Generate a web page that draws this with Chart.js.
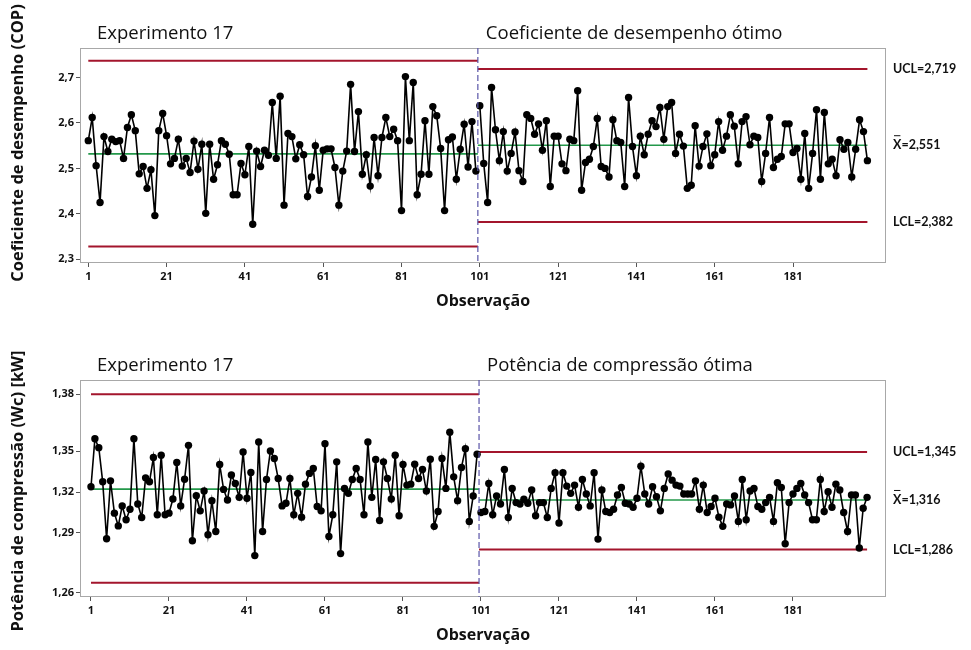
<!DOCTYPE html>
<html>
<head>
<meta charset="utf-8">
<script src="https://cdn.jsdelivr.net/npm/chart.js@4"></script>
<style>
  html, body { margin: 0; padding: 0; background: #fff; }
  .panel { position: absolute; left: 0; width: 971px; height: 325px; }
</style>
</head>
<body>
<div class="panel" style="top:0"><canvas id="copChart"></canvas></div>
<div class="panel" style="top:325px"><canvas id="wcChart"></canvas></div>
<script>
// observations are numbered 1..200, stage change after 100
const xTicks = [1, 21, 41, 61, 81, 101, 121, 141, 161, 181];
const stageSplit = 100.5;

// COP - Experimento 17 (obs 1-100)
const copStage1 = [
  2.561, 2.612, 2.506, 2.425, 2.570, 2.537, 2.564, 2.559, 2.561, 2.522,
  2.590, 2.618, 2.583, 2.488, 2.504, 2.456, 2.497, 2.396, 2.583, 2.621,
  2.572, 2.510, 2.522, 2.564, 2.505, 2.522, 2.491, 2.560, 2.498, 2.553,
  2.401, 2.553, 2.476, 2.508, 2.561, 2.553, 2.531, 2.442, 2.442, 2.511,
  2.486, 2.548, 2.377, 2.538, 2.504, 2.540, 2.529, 2.645, 2.522, 2.659,
  2.419, 2.577, 2.570, 2.521, 2.552, 2.530, 2.438, 2.481, 2.550, 2.452,
  2.540, 2.543, 2.543, 2.502, 2.419, 2.494, 2.538, 2.685, 2.537, 2.625,
  2.487, 2.530, 2.461, 2.568, 2.484, 2.568, 2.612, 2.570, 2.586, 2.561,
  2.407, 2.702, 2.561, 2.689, 2.442, 2.487, 2.605, 2.487, 2.636, 2.616,
  2.544, 2.407, 2.563, 2.569, 2.476, 2.542, 2.597, 2.503, 2.603, 2.494
];
// COP - optimum (obs 101-200)
const copStage2 = [
  2.638, 2.511, 2.425, 2.678, 2.585, 2.517, 2.581, 2.494, 2.533, 2.580,
  2.495, 2.471, 2.618, 2.610, 2.575, 2.598, 2.540, 2.605, 2.460, 2.571,
  2.571, 2.510, 2.495, 2.564, 2.561, 2.671, 2.452, 2.513, 2.520, 2.548,
  2.610, 2.504, 2.500, 2.481, 2.607, 2.561, 2.557, 2.460, 2.656, 2.548,
  2.484, 2.571, 2.530, 2.575, 2.605, 2.592, 2.634, 2.564, 2.636, 2.645,
  2.533, 2.575, 2.549, 2.456, 2.463, 2.594, 2.505, 2.548, 2.576, 2.506,
  2.530, 2.603, 2.540, 2.571, 2.618, 2.593, 2.510, 2.603, 2.614, 2.552,
  2.571, 2.568, 2.471, 2.533, 2.612, 2.502, 2.520, 2.526, 2.598, 2.598,
  2.535, 2.544, 2.476, 2.577, 2.456, 2.533, 2.629, 2.476, 2.623, 2.510,
  2.520, 2.484, 2.563, 2.542, 2.557, 2.481, 2.542, 2.607, 2.581, 2.517
];
// control limits [stage 1, stage 2]
const copUCL = [2.737, 2.719];
const copCL = [2.532, 2.551];
const copLCL = [2.328, 2.382];
const copTicks = [2.3, 2.4, 2.5, 2.6, 2.7];
const copTickLabels = ['2,3', '2,4', '2,5', '2,6', '2,7'];

// Wc - Experimento 17 (obs 1-100)
const wcStage1 = [
  1.3240, 1.3531, 1.3477, 1.3270, 1.2925, 1.3276, 1.3080, 1.3003, 1.3124, 1.3040,
  1.3104, 1.3531, 1.3136, 1.3054, 1.3294, 1.3270, 1.3417, 1.3070, 1.3431, 1.3070,
  1.3080, 1.3166, 1.3387, 1.3124, 1.3286, 1.3491, 1.2913, 1.3186, 1.3094, 1.3214,
  1.2949, 1.3156, 1.2969, 1.3375, 1.3224, 1.3160, 1.3311, 1.3260, 1.3176, 1.3451,
  1.3170, 1.3327, 1.2823, 1.3511, 1.2969, 1.3284, 1.3457, 1.3411, 1.3290, 1.3124,
  1.3140, 1.3290, 1.3070, 1.3200, 1.3056, 1.3256, 1.3321, 1.3351, 1.3120, 1.3094,
  1.3501, 1.2939, 1.3070, 1.3391, 1.2835, 1.3230, 1.3200, 1.3284, 1.3351, 1.3284,
  1.3070, 1.3511, 1.3176, 1.3405, 1.3036, 1.3391, 1.3290, 1.3166, 1.3431, 1.3064,
  1.3375, 1.3250, 1.3256, 1.3377, 1.3290, 1.3345, 1.3214, 1.3407, 1.3000, 1.3090,
  1.3411, 1.3230, 1.3571, 1.3300, 1.3156, 1.3357, 1.3471, 1.3030, 1.3184, 1.3437
];
// Wc - optimum (obs 101-200)
const wcStage2 = [
  1.3084, 1.3090, 1.3260, 1.3070, 1.3184, 1.3136, 1.3345, 1.3054, 1.3230, 1.3144,
  1.3136, 1.3164, 1.3140, 1.3220, 1.3064, 1.3144, 1.3144, 1.3054, 1.3230, 1.3325,
  1.3020, 1.3325, 1.3244, 1.3200, 1.3250, 1.3116, 1.3284, 1.3196, 1.3124, 1.3325,
  1.2923, 1.3220, 1.3090, 1.3084, 1.3104, 1.3190, 1.3236, 1.3140, 1.3136, 1.3116,
  1.3170, 1.3365, 1.3196, 1.3136, 1.3240, 1.3180, 1.3094, 1.3230, 1.3317, 1.3280,
  1.3250, 1.3244, 1.3196, 1.3196, 1.3196, 1.3276, 1.3104, 1.3250, 1.3084, 1.3120,
  1.3170, 1.3056, 1.3000, 1.3136, 1.3130, 1.3184, 1.3030, 1.3284, 1.3040, 1.3214,
  1.3230, 1.3120, 1.3104, 1.3144, 1.3176, 1.3030, 1.3264, 1.3236, 1.2895, 1.3144,
  1.3196, 1.3230, 1.3260, 1.3190, 1.3144, 1.3040, 1.3040, 1.3284, 1.3090, 1.3210,
  1.3116, 1.3256, 1.3220, 1.3084, 1.2969, 1.3190, 1.3190, 1.2869, 1.3110, 1.3176
];
const wcUCL = [1.380, 1.345];
const wcCL = [1.3226, 1.316];
const wcLCL = [1.2658, 1.286];
// tick marks sit where the printed labels are in the original figure
const wcTicks = [1.26, 1.2961, 1.3208, 1.3455, 1.38];
const wcTickLabels = ['1,26', '1,29', '1,32', '1,35', '1,38'];

const FONT = '"Open Sans", "DejaVu Sans", sans-serif';
const RED = '#a3152c';
const GREEN = '#23984a';

function comma(v, d) {
  return v.toFixed(d).replace('.', ',');
}

// frame, stage line, titles and limit labels
const stageDecor = {
  id: 'stageDecor',
  beforeDatasetsDraw(chart) {
    const { ctx, chartArea: a } = chart;
    ctx.save();
    ctx.strokeStyle = '#a8a8a8';
    ctx.lineWidth = 1;
    ctx.strokeRect(a.left + 0.5, a.top + 0.5, a.width - 1, a.height - 1);
    ctx.restore();
  },
  afterDatasetsDraw(chart, args, opts) {
    const { ctx, chartArea: a, scales } = chart;
    const x = scales.x, y = scales.y;
    const sx = x.getPixelForValue(opts.split);
    ctx.save();
    ctx.strokeStyle = '#5a55a8';
    ctx.lineWidth = 1.2;
    ctx.setLineDash([6, 3]);
    ctx.beginPath();
    ctx.moveTo(sx, a.top);
    ctx.lineTo(sx, a.bottom);
    ctx.stroke();
    ctx.setLineDash([]);

    ctx.fillStyle = '#111';
    ctx.font = '18.5px ' + FONT;
    ctx.textBaseline = 'alphabetic';
    ctx.fillText(opts.titles[0], a.left + 17, a.top - 9);
    ctx.fillText(opts.titles[1], sx + 8, a.top - 9);

    // vertical axis title
    ctx.save();
    ctx.translate(18, opts.yTitleY);
    ctx.rotate(-Math.PI / 2);
    ctx.font = 'bold 16.5px ' + FONT;
    ctx.textAlign = 'center';
    ctx.textBaseline = 'middle';
    ctx.fillText(opts.yTitle, 0, 0);
    ctx.restore();

    ctx.font = 'bold 12.5px Lato, ' + FONT;
    ctx.textBaseline = 'middle';
    const lx = a.right + 7;
    ctx.fillText('UCL=' + comma(opts.ucl, 3), lx, y.getPixelForValue(opts.ucl));
    const cy = y.getPixelForValue(opts.cl);
    ctx.fillText('X=' + comma(opts.cl, 3), lx, cy);
    const xw = ctx.measureText('X').width;
    ctx.strokeStyle = '#111';
    ctx.lineWidth = 1;
    ctx.beginPath();
    ctx.moveTo(lx + 1, cy - 9.5);
    ctx.lineTo(lx + xw - 1, cy - 9.5);
    ctx.stroke();
    ctx.fillText('LCL=' + comma(opts.lcl, 3), lx, y.getPixelForValue(opts.lcl));
    ctx.restore();
  }
};

function series(values, start) {
  return values.map((v, i) => ({ x: start + i, y: v }));
}

function limitSet(val, x0, x1, color, width) {
  return {
    data: [{ x: x0, y: val }, { x: x1, y: val }],
    borderColor: color,
    borderWidth: width,
    pointRadius: 0,
    fill: false
  };
}

function makeChart(id, cfg) {
  const pointStyle = {
    borderColor: '#000',
    backgroundColor: '#000',
    borderWidth: 1.6,
    pointRadius: 3.7,
    pointBorderWidth: 0,
    pointBackgroundColor: '#000',
    fill: false
  };
  return new Chart(document.getElementById(id), {
    type: 'line',
    data: {
      datasets: [
        Object.assign({ data: series(cfg.s1, 1) }, pointStyle),
        Object.assign({ data: series(cfg.s2, 101) }, pointStyle),
        limitSet(cfg.ucl[0], 1, stageSplit, RED, 2),
        limitSet(cfg.lcl[0], 1, stageSplit, RED, 2),
        limitSet(cfg.cl[0], 1, stageSplit, GREEN, 1.6),
        limitSet(cfg.ucl[1], stageSplit, 200, RED, 2),
        limitSet(cfg.lcl[1], stageSplit, 200, RED, 2),
        limitSet(cfg.cl[1], stageSplit, 200, GREEN, 1.6)
      ]
    },
    options: {
      responsive: true,
      maintainAspectRatio: false,
      animation: false,
      layout: { padding: { top: cfg.padTop, right: 85, bottom: cfg.padBottom, left: 0 } },
      plugins: {
        legend: { display: false },
        tooltip: { enabled: false },
        stageDecor: {
          split: stageSplit,
          titles: cfg.titles,
          yTitle: cfg.yTitle,
          yTitleY: cfg.yTitleY,
          ucl: cfg.ucl[1], cl: cfg.cl[1], lcl: cfg.lcl[1]
        }
      },
      scales: {
        x: {
          type: 'linear',
          min: cfg.xMin,
          max: cfg.xMax,
          afterBuildTicks: s => { s.ticks = xTicks.map(v => ({ value: v })); },
          afterFit: s => { s.height = 52; },
          grid: { drawOnChartArea: false, drawTicks: true, tickLength: 4, color: '#555' },
          border: { display: false },
          ticks: {
            color: '#111', padding: 3,
            font: { family: FONT, size: 11, weight: 'bold' },
            callback: v => String(v)
          },
          title: {
            display: true, text: 'Observação', color: '#111',
            font: { family: FONT, size: 16, weight: 'bold' },
            padding: { top: 2, bottom: 4 }
          }
        },
        y: {
          min: cfg.yMin,
          max: cfg.yMax,
          afterBuildTicks: s => { s.ticks = cfg.yTicks.map(v => ({ value: v })); },
          afterFit: s => { s.width = 80; },
          grid: { drawOnChartArea: false, drawTicks: true, tickLength: 4, color: '#555' },
          border: { display: false },
          ticks: {
            color: '#111', padding: 2,
            font: { family: FONT, size: 11, weight: 'bold' },
            callback: (v, i) => cfg.yLabels[i]
          }
        }
      }
    },
    plugins: [stageDecor]
  });
}

makeChart('copChart', {
  s1: copStage1, s2: copStage2,
  ucl: copUCL, cl: copCL, lcl: copLCL,
  yTicks: copTicks, yLabels: copTickLabels,
  yMin: 2.2917, yMax: 2.765,
  xMin: -1.12, xMax: 204.75,
  padTop: 48, padBottom: 10,
  titles: ['Experimento 17', 'Coeficiente de desempenho ótimo'],
  yTitle: 'Coeficiente de desempenho (COP)', yTitleY: 143
});

makeChart('wcChart', {
  s1: wcStage1, s2: wcStage2,
  ucl: wcUCL, cl: wcCL, lcl: wcLCL,
  yTicks: wcTicks, yLabels: wcTickLabels,
  yMin: 1.2572, yMax: 1.3887,
  xMin: -1.82, xMax: 204.85,
  padTop: 55, padBottom: 1,
  titles: ['Experimento 17', 'Potência de compressão ótima'],
  yTitle: 'Potência de compressão (Wc) [kW]', yTitleY: 166
});
</script>
</body>
</html>
